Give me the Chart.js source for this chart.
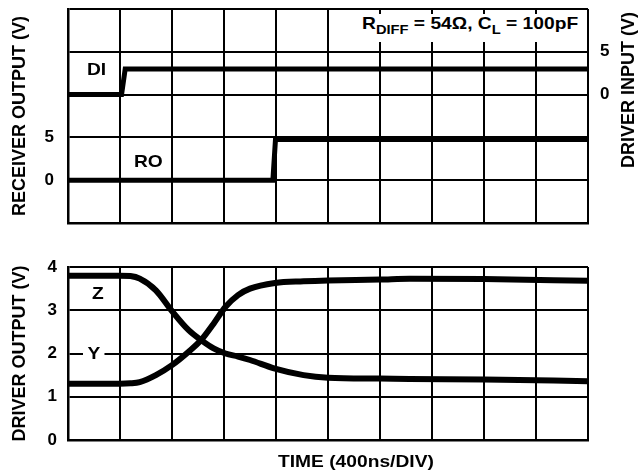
<!DOCTYPE html>
<html>
<head>
<meta charset="utf-8">
<script src="https://cdn.jsdelivr.net/npm/chart.js@4.4.1/dist/chart.umd.min.js"></script>
<style>
  html, body { margin: 0; padding: 0; background: #fff; }
  #wrap {
    position: relative; width: 643px; height: 474px; overflow: hidden;
    font-family: "Liberation Sans", Arial, sans-serif; font-weight: bold; color: #000;
  }
  canvas { position: absolute; left: 0; }
  #topChart { top: 0; }
  #bottomChart { top: 240px; }
  .lbl { position: absolute; font-size: 17px; line-height: 1; white-space: nowrap;
         transform: scaleX(1.13); transform-origin: left top; }
  .rot { position: absolute; font-size: 18px; line-height: 1; white-space: nowrap;
         transform: translate(-50%, -50%) rotate(-90deg); }
  .note { position: absolute; left: 355px; top: 14px; width: 230px; height: 28px; background: #fff; }
  .note span { position: absolute; left: 7px; top: 1px; font-size: 17px; line-height: 1;
               white-space: nowrap; transform: scaleX(1.13); transform-origin: left top; }
  .note sub { font-size: 13px; vertical-align: -5px; line-height: 0; }
</style>
</head>
<body>
<div id="wrap">
  <canvas id="topChart" width="643" height="240"></canvas>
  <canvas id="bottomChart" width="643" height="234"></canvas>
  <div class="note"><span>R<sub>DIFF</sub> = 54Ω, C<sub>L</sub> = 100pF</span></div>
  <div class="rot" style="left:628px; top:90px;">DRIVER INPUT (V)</div>
  <div class="lbl" style="left:87px; top:61px;">DI</div>
  <div class="lbl" style="left:134px; top:153px;">RO</div>
  <div class="lbl" style="left:92px; top:285px;">Z</div>
  <div class="lbl" style="left:83px; top:345px; background:#fff; padding:0 4px;">Y</div>
  <div class="lbl" style="left:278px; top:453px;">TIME (400ns/DIV)</div>
</div>
<script>
// top panel: driver input (right axis) and receiver output (left axis)
const diTime = [0, 412, 440, 4000];
const diVolts = [0, 0, 3, 3];
const roTime = [0, 1576, 1596, 4000];
const roVolts = [0, 0, 4.75, 4.75];

// bottom panel: driver outputs
const driverTime = [0, 400, 480, 552, 676, 800, 928, 1024, 1120, 1212, 1308, 1400, 1592, 1812, 2000, 2400, 2628, 3200, 4000];
const zVolts = [3.8, 3.8, 3.79, 3.73, 3.46, 2.98, 2.54, 2.31, 2.12, 2.0, 1.93, 1.85, 1.65, 1.5, 1.44, 1.42, 1.41, 1.4, 1.36];
const yVolts = [1.3, 1.3, 1.31, 1.34, 1.5, 1.73, 2.04, 2.31, 2.69, 3.08, 3.35, 3.5, 3.63, 3.67, 3.69, 3.71, 3.73, 3.72, 3.68];

const receiverTicks = [0, 5];
const driverInputTicks = [0, 5];

const pts = (xs, ys) => xs.map((x, i) => ({ x: x, y: ys[i] }));
const tickFont = { family: "'Liberation Sans', Arial, sans-serif", size: 17, weight: "bold" };
const titleFont = { family: "'Liberation Sans', Arial, sans-serif", size: 18, weight: "bold" };

Chart.defaults.animation = false;
Chart.defaults.color = "#000";

function timeAxis(h) {
  return {
    type: "linear", min: 0, max: 4000,
    ticks: { display: false, stepSize: 400 },
    grid: { color: "#000", lineWidth: 2, drawTicks: false },
    border: { color: "#000", width: 2.5 },
    afterFit: (s) => { s.height = h; s.paddingLeft = 0; s.paddingRight = 0; },
  };
}

// fixed width, no extra room for the end labels
const fixWidth = (w) => (s) => { s.width = w; s.paddingTop = 0; s.paddingBottom = 0; };

new Chart(document.getElementById("topChart"), {
  type: "line",
  data: {
    datasets: [
      { data: pts(roTime, roVolts), yAxisID: "y", borderColor: "#000", borderWidth: 5, pointRadius: 0, tension: 0 },
      { data: pts(diTime, diVolts), yAxisID: "y2", borderColor: "#000", borderWidth: 5, pointRadius: 0, tension: 0 },
    ],
  },
  options: {
    responsive: false,
    layout: { padding: { top: 9, left: 0, right: 0, bottom: 0 } },
    plugins: { legend: { display: false }, tooltip: { enabled: false } },
    scales: {
      x: timeAxis(17),
      y: {
        position: "left", min: -5, max: 20,
        ticks: { stepSize: 5, padding: 14, font: tickFont,
                 callback: (v) => (receiverTicks.includes(v) ? v : "") },
        grid: { color: "#000", lineWidth: 2, drawTicks: false },
        border: { color: "#000", width: 2.5 },
        title: { display: true, text: "RECEIVER OUTPUT (V)", font: titleFont, padding: { top: 9, bottom: 0 } },
        afterFit: fixWidth(68),
      },
      y2: {
        position: "right", min: -15, max: 10,
        ticks: { stepSize: 5, padding: 12, font: tickFont,
                 callback: (v) => (driverInputTicks.includes(v) ? v : "") },
        grid: { display: false, drawTicks: false },
        border: { display: false },
        afterFit: fixWidth(55),
      },
    },
  },
});

new Chart(document.getElementById("bottomChart"), {
  type: "line",
  data: {
    datasets: [
      { data: pts(driverTime, zVolts), borderColor: "#000", borderWidth: 6, pointRadius: 0, cubicInterpolationMode: "monotone" },
      { data: pts(driverTime, yVolts), borderColor: "#000", borderWidth: 6, pointRadius: 0, cubicInterpolationMode: "monotone" },
    ],
  },
  options: {
    responsive: false,
    layout: { padding: { top: 27, left: 0, right: 55, bottom: 0 } },
    plugins: { legend: { display: false }, tooltip: { enabled: false } },
    scales: {
      x: timeAxis(34),
      y: {
        position: "left", min: 0, max: 4,
        ticks: { stepSize: 1, padding: 11, font: tickFont },
        grid: { color: "#000", lineWidth: 2, drawTicks: false },
        border: { color: "#000", width: 2.5 },
        title: { display: true, text: "DRIVER OUTPUT (V)", font: titleFont, padding: { top: 9, bottom: 0 } },
        afterFit: fixWidth(68),
      },
    },
  },
});
</script>
</body>
</html>
